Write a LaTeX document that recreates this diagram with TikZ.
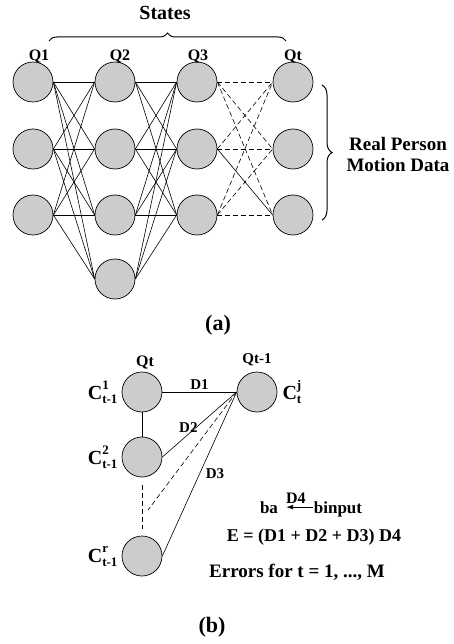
\documentclass[tikz,border=0pt]{standalone}
\usepackage{fontspec}
\setmainfont{Liberation Serif}
\usetikzlibrary{positioning,decorations.pathreplacing,arrows.meta}

% C with stacked upper and lower index
\newcommand{\Cidx}[2]{C\rlap{\raisebox{0.5em}{\fontsize{13}{13}\selectfont #1}}\raisebox{-0.2em}{\fontsize{13}{13}\selectfont #2}}

\begin{document}
\begin{tikzpicture}[x=1pt, y=-1pt,
    state/.style={circle, draw, line width=0.7pt, fill=gray!40, minimum size=40pt, inner sep=0pt},
    qlbl/.style={font={\fontsize{16}{16}\selectfont\bfseries}, inner sep=1pt},
    dlbl/.style={font={\fontsize{15}{15}\selectfont\bfseries}, inner sep=1pt},
    clbl/.style={font={\fontsize{20}{20}\selectfont\bfseries}, inner sep=1pt},
    txt/.style={font={\fontsize{18}{18}\selectfont\bfseries}, inner sep=1pt},
    figcap/.style={font={\fontsize{22}{22}\selectfont\bfseries}, inner sep=1pt},
    link/.style={line width=0.6pt},
    dlink/.style={line width=0.6pt, dash pattern=on 5pt off 3pt},
    bracket/.style={decorate, line width=1pt}]
    \useasboundingbox (0,0) rectangle (453,644);

    % (a) the state lattice
    \foreach \c/\x in {1/33, 2/115, 3/197, 4/293}
        \foreach \r/\y in {1/82, 2/149, 3/215}
            \node[state] (n\c\r) at (\x,\y) {};
    \node[state] (n24) at (115,279) {};

    \node[qlbl] (q1) at (39,57) {Q1};
    \node[qlbl] (q2) at (120,57) {Q2};
    \node[qlbl] (q3) at (198,57) {Q3};
    \node[qlbl] (qt) at (293,57) {Qt};

    \foreach \i in {1,2,3} {
        \foreach \j in {1,2,3,4} {
            \draw[link] (n1\i.east) -- (n2\j.west);
            \draw[link] (n2\j.east) -- (n3\i.west);
        }
    }
    \foreach \i/\j in {1/1,1/2,1/3,2/1,2/2,3/1,3/2,3/3}
        \draw[dlink] (n3\i.east) -- (n4\j.west);
    \draw[link] (n32.east) -- (n43.west);

    \draw[bracket, decoration={brace, amplitude=8pt}] (49,41) -- (286,41);
    \node[font={\fontsize{20}{20}\selectfont\bfseries}] (states) at (165,13) {States};
    \draw[bracket, decoration={brace, amplitude=10pt}] (322,85) -- (322,220);
    \node[txt, font={\fontsize{19}{19}\selectfont\bfseries}, align=center] (data) at (398,155) {Real Person\\[2pt]Motion Data};

    \node[figcap] (capa) at (218,325) {(a)};

    % (b) errors between neighbouring states
    \node[state] (b1) at (142,392) {};
    \node[state] (b2) at (142,457) {};
    \node[state] (br) at (142,556) {};
    \node[state] (bj) at (257,392) {};

    \node[qlbl] (bq) at (145,362) {Qt};
    \node[qlbl, font={\fontsize{15}{15}\selectfont\bfseries}] (bq1) at (257,360) {Qt-1};

    \node[clbl, left=3pt of b1] (c1) {\Cidx{1}{t-1}};
    \node[clbl, left=3pt of b2] (c2) {\Cidx{2}{t-1}};
    \node[clbl, left=3pt of br] (cr) {\Cidx{r}{t-1}};
    \node[clbl, right=4pt of bj] (cj) {\Cidx{j}{t}};

    \coordinate (gap) at (148,510);
    \draw[link] (b1.east) -- node[dlbl, above=1pt] {D1} (bj.west);
    \draw[link] (b1) -- (b2);
    \draw[link] (b2.east) -- node[dlbl, pos=0.35, anchor=south] {D2} (bj.west);
    \draw[dlink] (bj.west) -- (gap);
    \draw[dlink] ([yshift=-8pt]b2.south) -- ([yshift=7pt]br.north);
    \draw[link] (br.east) -- node[dlbl, pos=0.5, right=5pt] {D3} (bj.west);

    \node[txt, font={\fontsize{17}{17}\selectfont\bfseries}, text depth=0pt, anchor=base] (ba) at (269,513) {ba};
    \node[txt, font={\fontsize{17}{17}\selectfont\bfseries}, text depth=0pt, anchor=base] (binput) at (338,513) {binput};
    \draw[-{Latex[length=7pt,width=5pt]}, line width=1pt, shorten >=7pt] (binput) -- node[dlbl, font={\fontsize{16}{16}\selectfont\bfseries}, above=2pt] {D4} (ba);

    \node[txt] (eq) at (314,537) {E = (D1 + D2 + D3) D4};
    \node[txt, font={\fontsize{19}{19}\selectfont\bfseries}] (err) at (297,572) {Errors for t = 1, ..., M};

    \node[figcap] (capb) at (212,627) {(b)};
\end{tikzpicture}
\end{document}
